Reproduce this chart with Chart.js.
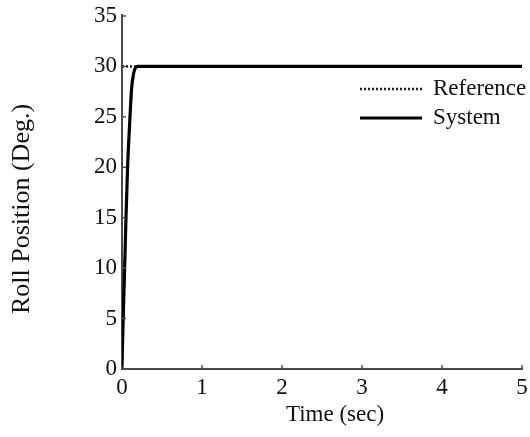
<!DOCTYPE html>
<html>
<head>
<meta charset="utf-8">
<script src="https://cdn.jsdelivr.net/npm/chart.js@4/dist/chart.umd.min.js"></script>
<style>
  html, body { margin: 0; padding: 0; background: #fff; }
  #wrap { width: 530px; height: 437px; }
</style>
</head>
<body>
<div id="wrap"><canvas id="rollChart"></canvas></div>
<script>
// step response of the roll loop, 30 deg command
const tiempo = [0, 0.005, 0.015, 0.033, 0.05, 0.07, 0.1, 0.12, 0.145, 0.17, 0.2, 0.3, 1, 2, 3, 4, 5];
const sistema = [0, 2, 5, 10, 15, 20, 25, 27.8, 29.3, 29.9, 30, 30, 30, 30, 30, 30, 30];
const tiempoRef = [0, 5];
const referencia = [30, 30];
const ticksX = [0, 1, 2, 3, 4, 5];
const ticksY = [0, 5, 10, 15, 20, 25, 30, 35];
const tituloX = 'Time (sec)';
const tituloY = 'Roll Position (Deg.)';

const serif = 'Liberation Serif';
const gris = '#4a4a4a';
const tamano = 23;

const puntos = (xs, ys) => xs.map((x, i) => ({ x: x, y: ys[i] }));

// inward tick marks, axis titles and legend drawn on the canvas
const marcas = {
    id: 'marcas',
    afterDraw(chart) {
        const ctx = chart.ctx;
        const xs = chart.scales.x, ys = chart.scales.y;
        const area = chart.chartArea;
        ctx.save();
        ctx.strokeStyle = gris;
        ctx.lineWidth = 1.5;
        ticksX.forEach(v => {
            const px = xs.getPixelForValue(v);
            ctx.beginPath();
            ctx.moveTo(px, area.bottom);
            ctx.lineTo(px, area.bottom - 4);
            ctx.stroke();
        });
        ticksY.forEach(v => {
            const py = ys.getPixelForValue(v);
            ctx.beginPath();
            ctx.moveTo(area.left, py);
            ctx.lineTo(area.left + 4, py);
            ctx.stroke();
        });
        // y axis runs a bit past the top tick
        ctx.lineWidth = 2;
        ctx.beginPath();
        ctx.moveTo(area.left, area.top);
        ctx.lineTo(area.left, area.top - 2);
        ctx.stroke();

        ctx.fillStyle = '#111';
        ctx.textBaseline = 'middle';
        ctx.textAlign = 'center';
        ctx.font = tamano + 'px "' + serif + '"';
        ctx.fillText(tituloX, 335, 415);

        ctx.save();
        ctx.translate(22, 209);
        ctx.rotate(-Math.PI / 2);
        ctx.font = '26px "' + serif + '"';
        ctx.fillText(tituloY, 0, 0);
        ctx.restore();

        const items = chart.data.datasets;
        const filas = [89, 118];
        ctx.textAlign = 'left';
        items.forEach((ds, i) => {
            const y = filas[i];
            ctx.beginPath();
            ctx.strokeStyle = ds.borderColor;
            ctx.lineWidth = ds.borderWidth;
            ctx.setLineDash(ds.borderDash || []);
            ctx.moveTo(360, y);
            ctx.lineTo(422, y);
            ctx.stroke();
            ctx.setLineDash([]);
            ctx.fillText(ds.label, 433, y);
        });
        ctx.restore();
    }
};

const ctx = document.getElementById('rollChart').getContext('2d');
const rollChart = new Chart(ctx, {
    type: 'scatter',
    data: {
        datasets: [
            {
                label: 'Reference',
                data: puntos(tiempoRef, referencia),
                showLine: true,
                borderColor: '#222',
                borderWidth: 2.5,
                borderDash: [2, 2],
                pointRadius: 0,
                order: 2
            },
            {
                label: 'System',
                data: puntos(tiempo, sistema),
                showLine: true,
                borderColor: '#000',
                borderWidth: 3.2,
                pointRadius: 0,
                cubicInterpolationMode: 'monotone',
                order: 1
            }
        ]
    },
    options: {
        responsive: true,
        maintainAspectRatio: false,
        animation: false,
        layout: { padding: { top: 16, right: 8, left: 0, bottom: 0 } },
        plugins: {
            legend: { display: false },
            tooltip: { enabled: false }
        },
        scales: {
            x: {
                type: 'linear',
                min: 0,
                max: 5,
                afterBuildTicks: s => { s.ticks = ticksX.map(v => ({ value: v })); },
                afterFit: s => { s.height = 68; s.paddingRight = 0; },
                grid: { display: false, drawTicks: false },
                border: { display: true, color: gris, width: 2 },
                ticks: {
                    padding: 5,
                    color: '#111',
                    font: { family: serif, size: tamano }
                }
            },
            y: {
                type: 'linear',
                min: 0,
                max: 35,
                afterBuildTicks: s => { s.ticks = ticksY.map(v => ({ value: v })); },
                afterFit: s => { s.width = 122; s.paddingTop = 0; },
                grid: { display: false, drawTicks: false },
                border: { display: true, color: gris, width: 2 },
                ticks: {
                    padding: 5,
                    color: '#111',
                    font: { family: serif, size: tamano }
                }
            }
        }
    },
    plugins: [marcas]
});
</script>
</body>
</html>
